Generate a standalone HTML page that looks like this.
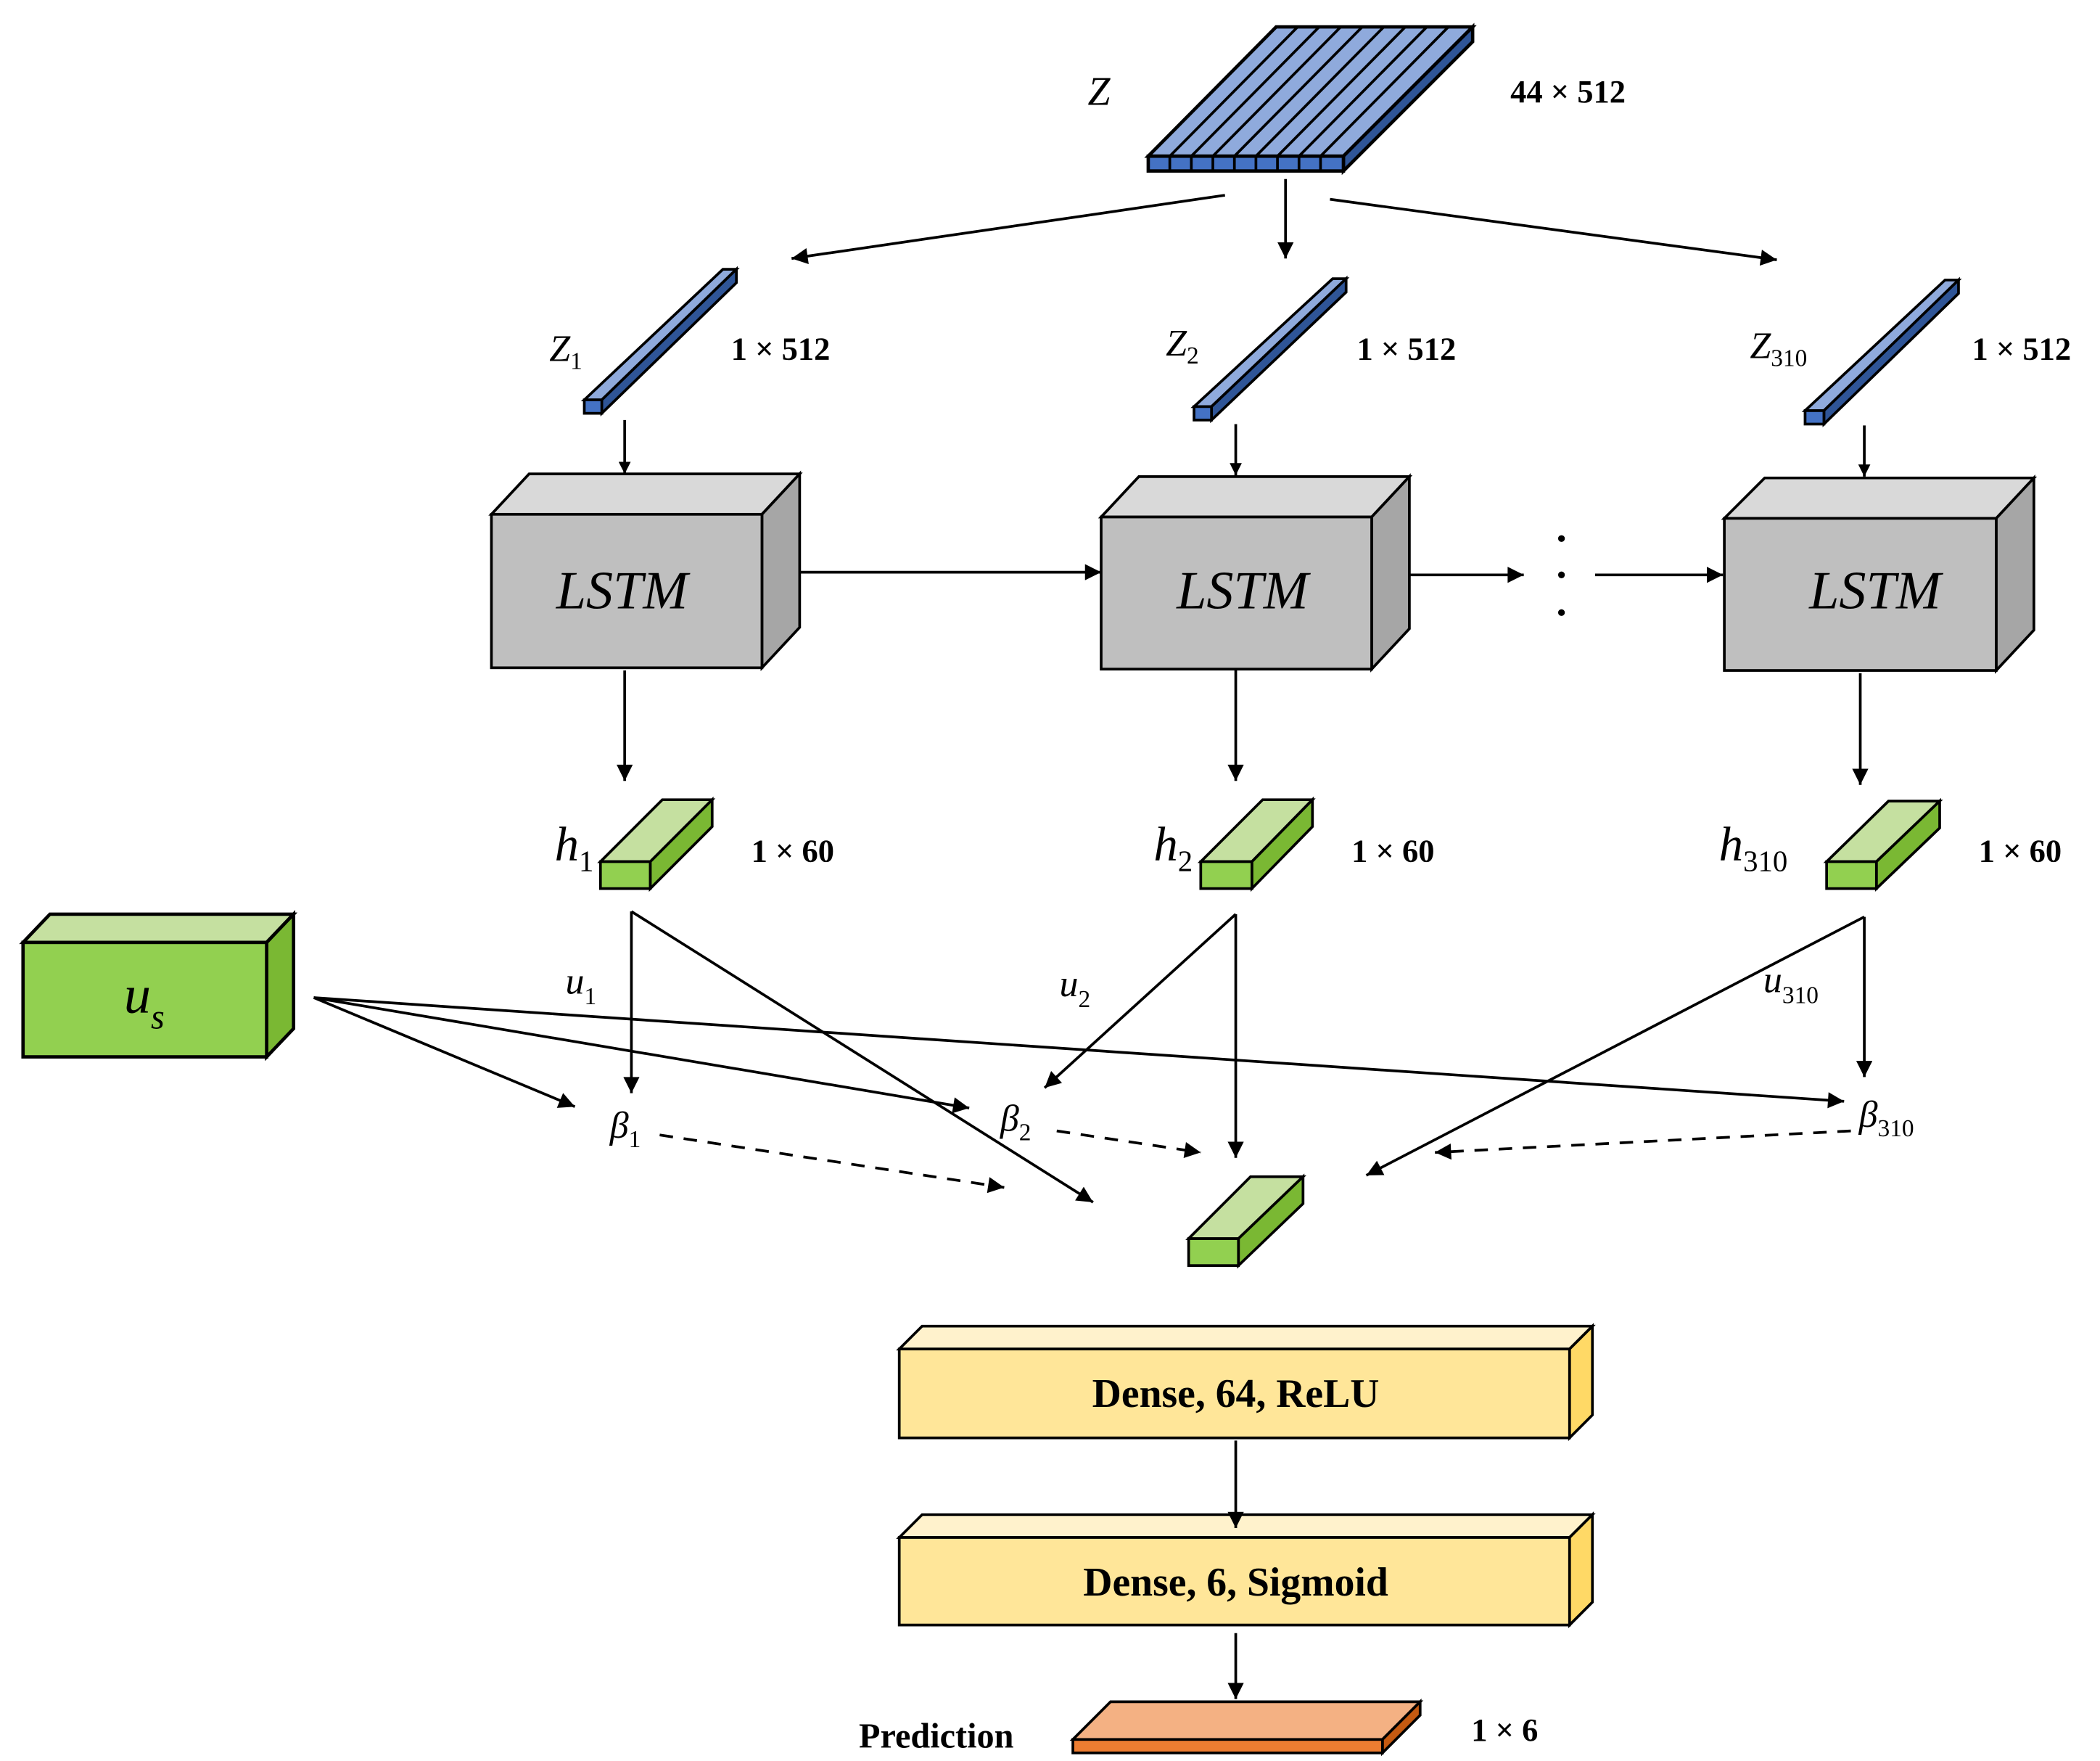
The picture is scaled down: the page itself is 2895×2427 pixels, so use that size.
<!DOCTYPE html>
<html><head><meta charset="utf-8"><style>html,body{margin:0;padding:0;background:#fff}svg{display:block}</style></head>
<body>
<svg xmlns="http://www.w3.org/2000/svg" width="2895" height="2427" viewBox="0 0 1560 1308">
<defs>
<marker id="a" viewBox="0 0 10 10" refX="10" refY="5" markerWidth="12" markerHeight="9" orient="auto" markerUnits="userSpaceOnUse"><path d="M0,0L10,5L0,10z" fill="#000"/></marker>
<marker id="b" viewBox="0 0 10 10" refX="10" refY="5" markerWidth="16" markerHeight="12" orient="auto" markerUnits="userSpaceOnUse"><path d="M0,0L10,5L0,10z" fill="#000"/></marker>
</defs>
<g font-family="Liberation Serif, serif" stroke-linejoin="miter">
<g stroke="#000" stroke-width="2.5">
<polygon points="853,116 998,116 1094,20 948,20" fill="#8faadc"/>
<polygon points="998,116 1094,20 1094,31 998,127" fill="#2f5597"/>
<rect x="853" y="116" width="145" height="11" fill="#4472c4"/>
<g stroke-width="2">
<line x1="869" y1="116" x2="964" y2="20"/><line x1="885" y1="116" x2="980" y2="20"/><line x1="901" y1="116" x2="996" y2="20"/><line x1="917" y1="116" x2="1012" y2="20"/><line x1="933" y1="116" x2="1028" y2="20"/><line x1="949" y1="116" x2="1044" y2="20"/><line x1="965" y1="116" x2="1060" y2="20"/><line x1="981" y1="116" x2="1076" y2="20"/>
<line x1="869" y1="116" x2="869" y2="127"/><line x1="885" y1="116" x2="885" y2="127"/><line x1="901" y1="116" x2="901" y2="127"/><line x1="917" y1="116" x2="917" y2="127"/><line x1="933" y1="116" x2="933" y2="127"/><line x1="949" y1="116" x2="949" y2="127"/><line x1="965" y1="116" x2="965" y2="127"/><line x1="981" y1="116" x2="981" y2="127"/>
</g></g>
<text x="808" y="78" font-size="30" font-style="italic">Z</text>
<text x="1122" y="76" font-size="24" font-weight="bold">44 × 512</text>

<g stroke="#000" stroke-width="2" fill="none">
<line x1="910" y1="145" x2="588" y2="192" marker-end="url(#b)"/>
<line x1="955" y1="133" x2="955" y2="192" marker-end="url(#b)"/>
<line x1="988" y1="148" x2="1320" y2="193" marker-end="url(#b)"/>
</g>

<g stroke="#000" stroke-width="2">
<polygon points="434,297 447,297 547,200 537,200" fill="#8faadc"/>
<polygon points="447,297 547,200 547,210 447,307" fill="#2f5597"/>
<rect x="434" y="297" width="13" height="10" fill="#4472c4"/>
<polygon points="887,302 900,302 1000,207 990,207" fill="#8faadc"/>
<polygon points="900,302 1000,207 1000,217 900,312" fill="#2f5597"/>
<rect x="887" y="302" width="13" height="10" fill="#4472c4"/>
<polygon points="1341,305 1355,305 1455,208 1445,208" fill="#8faadc"/>
<polygon points="1355,305 1455,208 1455,218 1355,315" fill="#2f5597"/>
<rect x="1341" y="305" width="14" height="10" fill="#4472c4"/>
</g>
<text x="408" y="268" font-size="28" font-style="italic">Z<tspan font-size="18" font-style="normal" dy="6">1</tspan></text>
<text x="866" y="264" font-size="28" font-style="italic">Z<tspan font-size="18" font-style="normal" dy="6">2</tspan></text>
<text x="1300" y="266" font-size="28" font-style="italic">Z<tspan font-size="18" font-style="normal" dy="6">310</tspan></text>
<g font-size="24" font-weight="bold">
<text x="543" y="267">1 × 512</text><text x="1008" y="267">1 × 512</text><text x="1465" y="267">1 × 512</text>
</g>

<g stroke="#000" stroke-width="2" fill="none">
<line x1="464" y1="312" x2="464" y2="352" marker-end="url(#a)"/>
<line x1="918" y1="315" x2="918" y2="353" marker-end="url(#a)"/>
<line x1="1385" y1="316" x2="1385" y2="354" marker-end="url(#a)"/>
</g>

<g stroke="#000" stroke-width="2">
<polygon points="365,382 566,382 594,352 393,352" fill="#d9d9d9"/>
<polygon points="566,382 594,352 594,466 566,496" fill="#a6a6a6"/>
<rect x="365" y="382" width="201" height="114" fill="#bfbfbf"/>
<polygon points="818,384 1019,384 1047,354 846,354" fill="#d9d9d9"/>
<polygon points="1019,384 1047,354 1047,467 1019,497" fill="#a6a6a6"/>
<rect x="818" y="384" width="201" height="113" fill="#bfbfbf"/>
<polygon points="1281,385 1483,385 1511,355 1311,355" fill="#d9d9d9"/>
<polygon points="1483,385 1511,355 1511,468 1483,498" fill="#a6a6a6"/>
<rect x="1281" y="385" width="202" height="113" fill="#bfbfbf"/>
</g>
<g font-size="40" font-style="italic" text-anchor="middle">
<text x="462" y="452">LSTM</text><text x="923" y="452">LSTM</text><text x="1393" y="452">LSTM</text>
</g>
<g stroke="#000" stroke-width="2" fill="none">
<line x1="594" y1="425" x2="818" y2="425" marker-end="url(#b)"/>
<line x1="1047" y1="427" x2="1132" y2="427" marker-end="url(#b)"/>
<line x1="1185" y1="427" x2="1280" y2="427" marker-end="url(#b)"/>
<line x1="464" y1="498" x2="464" y2="580" marker-end="url(#b)"/>
<line x1="918" y1="498" x2="918" y2="580" marker-end="url(#b)"/>
<line x1="1382" y1="500" x2="1382" y2="583" marker-end="url(#b)"/>
</g>
<g fill="#000"><circle cx="1160" cy="400" r="2.5"/><circle cx="1160" cy="427" r="2.5"/><circle cx="1160" cy="455" r="2.5"/></g>

<g stroke="#000" stroke-width="2">
<polygon points="446,640 483,640 529,594 492,594" fill="#c5e0a0"/>
<polygon points="483,640 529,594 529,614 483,660" fill="#7ab833"/>
<rect x="446" y="640" width="37" height="20" fill="#92d050"/>
<polygon points="892,640 930,640 975,594 938,594" fill="#c5e0a0"/>
<polygon points="930,640 975,594 975,614 930,660" fill="#7ab833"/>
<rect x="892" y="640" width="38" height="20" fill="#92d050"/>
<polygon points="1357,640 1394,640 1441,595 1403,595" fill="#c5e0a0"/>
<polygon points="1394,640 1441,595 1441,615 1394,660" fill="#7ab833"/>
<rect x="1357" y="640" width="37" height="20" fill="#92d050"/>
<polygon points="883,920 920,920 968,874 929,874" fill="#c5e0a0"/>
<polygon points="920,920 968,874 968,894 920,940" fill="#7ab833"/>
<rect x="883" y="920" width="37" height="20" fill="#92d050"/>
</g>
<text x="412" y="639" font-size="36" font-style="italic">h<tspan font-size="22" font-style="normal" dy="8">1</tspan></text>
<text x="857" y="639" font-size="36" font-style="italic">h<tspan font-size="22" font-style="normal" dy="8">2</tspan></text>
<text x="1277" y="639" font-size="36" font-style="italic">h<tspan font-size="22" font-style="normal" dy="8">310</tspan></text>
<g font-size="24" font-weight="bold">
<text x="558" y="640">1 × 60</text><text x="1004" y="640">1 × 60</text><text x="1470" y="640">1 × 60</text>
</g>

<g stroke="#000" stroke-width="2.5">
<polygon points="17,700 198,700 218,679 37,679" fill="#c5e0a0"/>
<polygon points="198,700 218,679 218,764 198,785" fill="#7ab833"/>
<rect x="17" y="700" width="181" height="85" fill="#92d050"/>
</g>
<text x="92" y="752" font-size="40" font-style="italic">u<tspan font-size="26" dy="12">s</tspan></text>

<g stroke="#000" stroke-width="2" fill="none">
<line x1="469" y1="677" x2="469" y2="812" marker-end="url(#b)"/>
<line x1="469" y1="677" x2="812" y2="893" marker-end="url(#b)"/>
<line x1="918" y1="679" x2="776" y2="808" marker-end="url(#b)"/>
<line x1="918" y1="679" x2="918" y2="860" marker-end="url(#b)"/>
<line x1="1385" y1="681" x2="1015" y2="873" marker-end="url(#b)"/>
<line x1="1385" y1="681" x2="1385" y2="800" marker-end="url(#b)"/>
<line x1="233" y1="741" x2="427" y2="822" marker-end="url(#b)"/>
<line x1="233" y1="741" x2="720" y2="823" marker-end="url(#b)"/>
<line x1="233" y1="741" x2="1370" y2="818" marker-end="url(#b)"/>
<g stroke-dasharray="10,8">
<line x1="490" y1="843" x2="746" y2="882" marker-end="url(#b)"/>
<line x1="785" y1="840" x2="892" y2="856" marker-end="url(#b)"/>
<line x1="1375" y1="840" x2="1066" y2="856" marker-end="url(#b)"/>
</g>
</g>
<text x="420" y="738" font-size="28" font-style="italic">u<tspan font-size="18" font-style="normal" dy="8">1</tspan></text>
<text x="787" y="740" font-size="28" font-style="italic">u<tspan font-size="18" font-style="normal" dy="8">2</tspan></text>
<text x="1310" y="737" font-size="28" font-style="italic">u<tspan font-size="18" font-style="normal" dy="8">310</tspan></text>
<text x="453" y="845" font-size="28" font-style="italic">β<tspan font-size="18" font-style="normal" dy="7">1</tspan></text>
<text x="743" y="840" font-size="28" font-style="italic">β<tspan font-size="18" font-style="normal" dy="7">2</tspan></text>
<text x="1381" y="837" font-size="28" font-style="italic">β<tspan font-size="18" font-style="normal" dy="7">310</tspan></text>

<g stroke="#000" stroke-width="2">
<polygon points="668,1002 1166,1002 1183,985 685,985" fill="#fff2cc"/>
<polygon points="1166,1002 1183,985 1183,1051 1166,1068" fill="#ffd966"/>
<rect x="668" y="1002" width="498" height="66" fill="#ffe699"/>
<polygon points="668,1142 1166,1142 1183,1125 685,1125" fill="#fff2cc"/>
<polygon points="1166,1142 1183,1125 1183,1190 1166,1207" fill="#ffd966"/>
<rect x="668" y="1142" width="498" height="65" fill="#ffe699"/>
<polygon points="797,1292 1027,1292 1055,1264 825,1264" fill="#f4b183"/>
<polygon points="1027,1292 1055,1264 1055,1274 1027,1302" fill="#c55a11"/>
<rect x="797" y="1292" width="230" height="10" fill="#ed7d31"/>
</g>
<g font-size="30" font-weight="bold" text-anchor="middle">
<text x="918" y="1045">Dense, 64, ReLU</text>
<text x="918" y="1185">Dense, 6, Sigmoid</text>
</g>
<g stroke="#000" stroke-width="2" fill="none">
<line x1="918" y1="1070" x2="918" y2="1135" marker-end="url(#b)"/>
<line x1="918" y1="1213" x2="918" y2="1262" marker-end="url(#b)"/>
</g>
<text x="638" y="1298" font-size="26" font-weight="bold">Prediction</text>
<text x="1093" y="1293" font-size="24" font-weight="bold">1 × 6</text>
</g>
</svg>
</body></html>
